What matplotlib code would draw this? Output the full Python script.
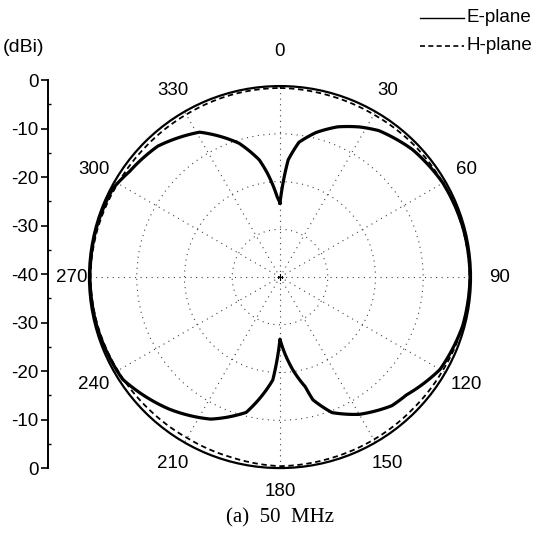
import numpy as np
import matplotlib
matplotlib.use('Agg')
import matplotlib.pyplot as plt
from matplotlib.ticker import FixedLocator, FuncFormatter

plt.rcParams['font.family'] = ['Liberation Sans', 'DejaVu Sans']

# E-plane pattern (deg, dBi)
e_deg = [0, 4, 8, 14, 21, 28, 34, 46, 60, 75, 90, 105, 120, 133, 139, 150, 159,
         165, 167, 172, 180, 184, 194, 206, 220, 237, 255, 270, 285, 298, 305,
         317, 331, 343, 350, 353, 358, 360]
e_db = [-24.5, -15.4, -11.5, -8.8, -6.3, -4.4, -3.0, -1.5, -0.6, -0.3, -0.2,
        -0.4, -1.3, -3.8, -4.3, -6.8, -9.6, -13.4, -16.4, -20.3, -27.0, -18.4,
        -10.8, -6.9, -3.9, -0.7, -0.3, -0.2, -0.2, -0.4, -1.5, -2.5, -5.3,
        -10.7, -15.1, -18.0, -23.2, -24.5]

# H-plane pattern
h_deg = [0, 15, 30, 45, 60, 75, 90, 105, 120, 135, 150, 165, 180, 195, 210,
         225, 240, 255, 270, 285, 300, 315, 330, 345, 360]
h_db = [-0.4, -0.6, -0.7, -0.6, -0.6, -0.4, -0.3, -0.4, -0.7, -0.8, -0.7, -0.6,
        -0.4, -0.9, -1.1, -1.0, -0.8, -0.5, -0.3, -0.5, -0.8, -0.8, -0.7, -0.5,
        -0.4]

angle_labels = ['0', '30', '60', '90', '120', '150', '180', '210', '240', '270', '300', '330']
ring_db = [-30, -20, -10]
rmin, rmax = -40, 0
fs = 13.5

fig = plt.figure(figsize=(5.36, 5.38), dpi=100)

ax = fig.add_axes([0.166, 0.130, 0.7127, 0.710], projection='polar')
ax.set_theta_zero_location('N')
ax.set_theta_direction(-1)
ax.set_ylim(rmin, rmax)

lh, = ax.plot(np.deg2rad(h_deg), h_db, color='black', lw=1.3, ls=(0, (3, 2)))
le, = ax.plot(np.deg2rad(e_deg), e_db, color='black', lw=2.3)
# draw segments as arcs in polar space, like the original plotting tool
for ln in (lh, le):
    ln.get_path()._interpolation_steps = 10

ax.set_rticks(ring_db)
ax.set_yticklabels([])
ax.set_xticks(np.deg2rad(np.arange(0, 360, 30)))
ax.set_xticklabels([])
ax.grid(True, color='#444444', ls=(0, (1, 4)), lw=0.8)
ax.tick_params(axis='x', direction='in', length=7, width=1, colors='black')
ax.spines['polar'].set_linewidth(1.6)

label_r = {0: 7.2, 90: 6.0, 270: 3.6}
for i, lab in enumerate(angle_labels):
    rl = label_r.get(30 * i, 5.0)
    ax.text(np.deg2rad(30 * i), rl, lab, ha='center', va='center',
            fontsize=fs, clip_on=False)
ax.plot([0], [rmin], marker='+', color='black', ms=5, mew=0.8)

# left dB scale
sc = fig.add_axes([0.0896, 0.130, 0.001, 0.721])
sc.set_ylim(-40, 40)
sc.set_xticks([])
for s in ['top', 'right', 'bottom']:
    sc.spines[s].set_visible(False)
sc.spines['left'].set_linewidth(1.4)
sc.yaxis.set_major_locator(FixedLocator(np.arange(-40, 41, 10)))
sc.yaxis.set_minor_locator(FixedLocator(np.arange(-35, 40, 10)))
sc.yaxis.set_major_formatter(FuncFormatter(lambda p, _: '%d' % (abs(p) - 40)))
sc.tick_params(axis='y', which='major', length=5, width=1.2, labelsize=fs, pad=2)
sc.tick_params(axis='y', which='minor', length=2, width=1, direction='in')
fig.text(0.006, 0.912, '(dBi)', fontsize=14, va='center')

# legend
lx0, lx1 = 0.783, 0.865
fig.add_artist(plt.Line2D([lx0, lx1], [0.967, 0.967], color='black', lw=1.0))
fig.add_artist(plt.Line2D([lx0, lx1], [0.915, 0.915], color='black', lw=1.2, ls=(0, (3, 2))))
fig.text(0.870, 0.967, 'E-plane', fontsize=fs, va='center')
fig.text(0.870, 0.915, 'H-plane', fontsize=fs, va='center')

fig.text(0.5224, 0.038, '(a)  50  MHz', fontsize=15, ha='center', va='center',
         family=['Liberation Serif', 'DejaVu Serif'])

fig.savefig('out.png', dpi=100)
